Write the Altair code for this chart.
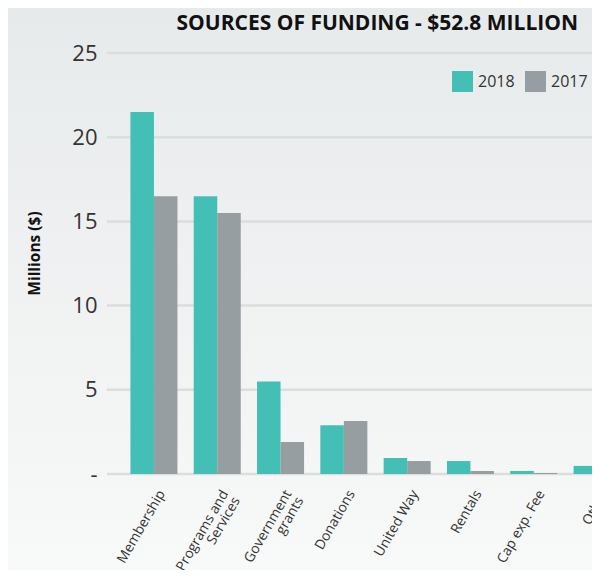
import altair as alt
import pandas as pd

categories = ["Membership", "Programs and|Services", "Government|grants", "Donations",
              "United Way", "Rentals", "Cap exp. Fee", "Other"]
years = ["2018", "2017"]
v2018 = [21.5, 16.5, 5.5, 2.9, 0.95, 0.77, 0.18, 0.48]
v2017 = [16.5, 15.5, 1.9, 3.15, 0.77, 0.18, 0.06, 0.35]
ticks = [0, 5, 10, 15, 20, 25]
colors = ["#43bfb5", "#979ea1"]

rows = []
for c, a, b in zip(categories, v2018, v2017):
    rows.append({"cat": c, "year": "2018", "val": a})
    rows.append({"cat": c, "year": "2017", "val": b})
df = pd.DataFrame(rows)
grid_df = pd.DataFrame({"t": ticks})

FONT = "Open Sans"
W, H = 485, 421
PL, PT, PB = 99, 45, 96

yscale = alt.Scale(domain=[0, 25], nice=False)

bg = alt.Chart(pd.DataFrame({"a": [0]})).mark_rect(
    clip=False,
    fill=alt.Gradient(
        gradient="linear",
        stops=[alt.GradientStop(color="#e7eaeb", offset=0),
               alt.GradientStop(color="#f8f9f9", offset=1)],
        x1=0, x2=0, y1=0, y2=1,
    ),
).encode(x=alt.value(-PL), x2=alt.value(W + 10), y=alt.value(-PT), y2=alt.value(H + PB))

grid = alt.Chart(grid_df).mark_rule(color="#dcdddd", strokeWidth=2.5, clip=False).encode(
    y=alt.Y("t:Q", scale=yscale),
    x=alt.value(0), x2=alt.value(W + 10),
)

bars = alt.Chart(df).mark_bar().encode(
    x=alt.X("cat:N", sort=categories,
            scale=alt.Scale(paddingInner=0.257, paddingOuter=0.37, range=[0, 537]),
            axis=alt.Axis(title=None, labelAngle=-60, labelAlign="right", labelBaseline="middle",
                          labelExpr="split(datum.label, '|')", labelFontSize=13.8, labelColor="#333333",
                          labelFont=FONT, labelPadding=17, labelOffset=8, domain=False, ticks=False,
                          grid=False, labelLineHeight=13.5, zindex=1, labelBound=False,
                          labelOverlap=False)),
    xOffset=alt.XOffset("year:N", sort=years, scale=alt.Scale(paddingInner=0, paddingOuter=0)),
    y=alt.Y("val:Q", scale=yscale,
            axis=alt.Axis(title="Millions ($)", values=ticks,
                          labelExpr="datum.value == 0 ? '-' : datum.label",
                          labelFontSize=22, labelColor="#333333", labelFont=FONT, labelPadding=10,
                          ticks=False, domain=False, grid=False, zindex=1,
                          titleFont=FONT, titleFontSize=15.5, titleFontWeight="bold", titleColor="#111111",
                          titlePadding=29, titleY=200)),
    color=alt.Color("year:N", sort=years, scale=alt.Scale(domain=years, range=colors),
                    legend=alt.Legend(title=None, orient="none", legendX=345, legendY=18,
                                      direction="horizontal", symbolType="square", symbolSize=441,
                                      symbolStrokeWidth=0, symbolOpacity=1, labelFontSize=16,
                                      labelFont=FONT, labelColor="#333333", labelOffset=5,
                                      columnPadding=10, padding=0, zindex=1)),
)

chart = alt.layer(bg, grid, bars).properties(
    width=W, height=H,
    autosize=alt.AutoSizeParams(type="none"),
    padding={"left": PL, "top": PT, "right": 0, "bottom": PB},
    title=alt.TitleParams("SOURCES OF FUNDING - $52.8 MILLION", anchor="end", frame="group",
                          dx=-14, font=FONT, fontSize=21, fontWeight="bold", color="#111111",
                          offset=-26),
).configure_view(stroke=None).configure(background="#eceeef")

chart.save("out.html", embed_options={"renderer": "svg", "actions": False})
